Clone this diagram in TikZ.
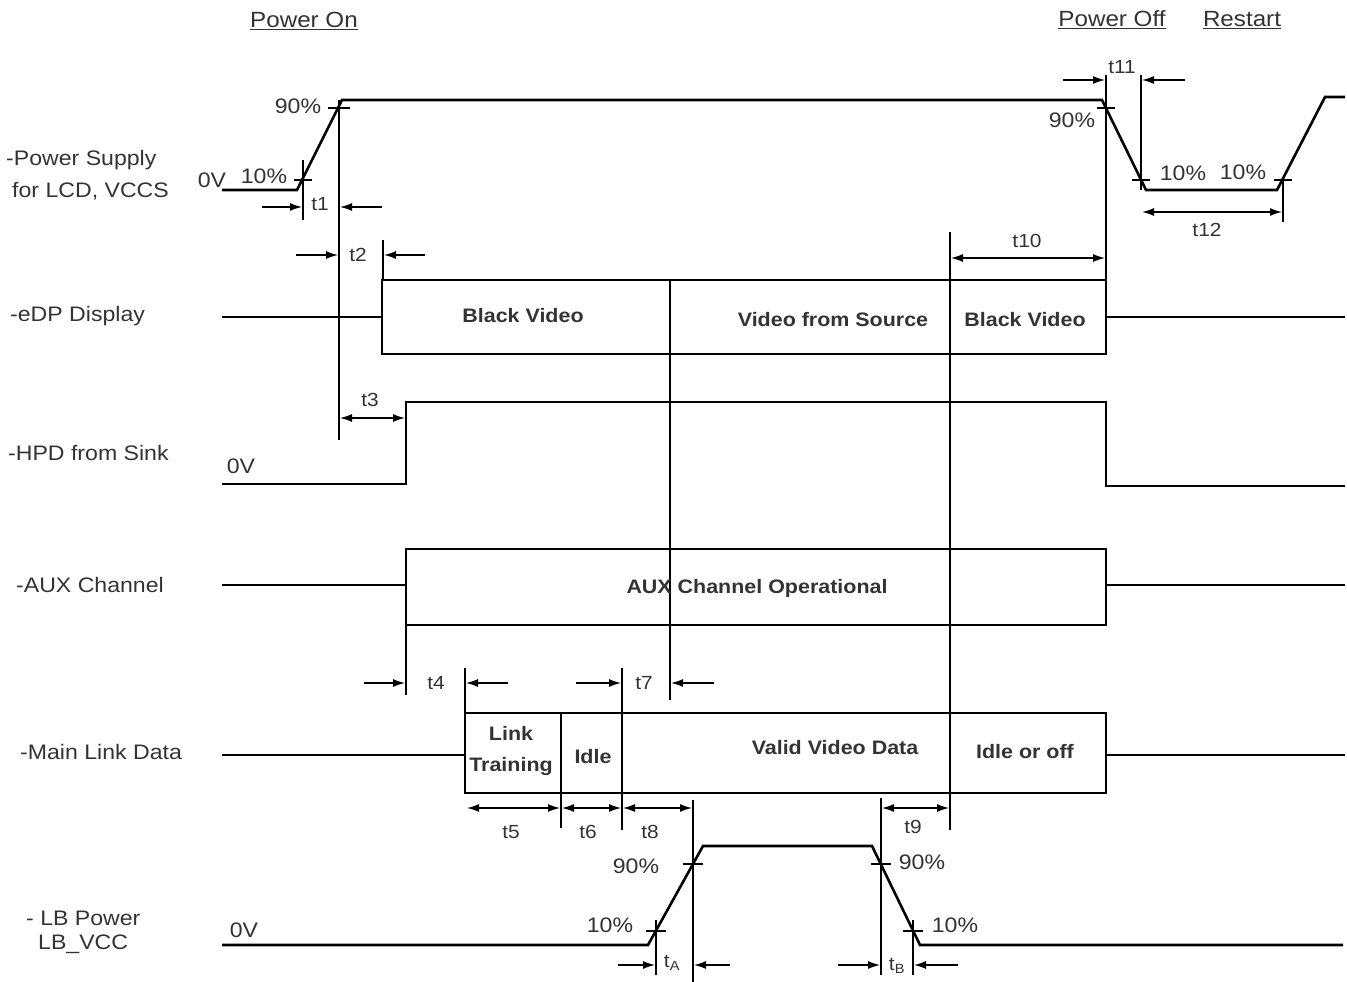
\documentclass[tikz,border=0pt]{standalone}
\usepackage{fontspec}
\setmainfont[FakeStretch=1.1]{Liberation Sans}
\usetikzlibrary{arrows.meta}
\definecolor{labelgrey}{gray}{0.2}
\tikzset{
  sig/.style={line width=2.6pt, line join=miter},
  guide/.style={line width=1.3pt},
  tick/.style={line width=1.1pt},
  dimr/.style={line width=1.3pt,-{Latex[length=12pt,width=8pt]}},
  dimb/.style={line width=1.3pt,{Latex[length=12pt,width=8pt]}-{Latex[length=12pt,width=8pt]}},
  lbl/.style={font=\fontsize{21}{24}\selectfont, inner sep=0pt, text=labelgrey},
  hlbl/.style={font=\fontsize{22}{24}\selectfont, inner sep=0pt, text=labelgrey},
  blbl/.style={font=\fontsize{19.5}{31}\selectfont\bfseries, inner sep=0pt, align=center, text=labelgrey},
  tlbl/.style={font=\fontsize{19}{22}\selectfont, inner sep=0pt, text=labelgrey},
}

\begin{document}
\begin{tikzpicture}[x=1pt,y=-1pt,>=Latex]
\useasboundingbox (0,0) rectangle (1347,982);
% headings
\node[hlbl] (pon) at (304,21) {\underline{Power On}};
\node[hlbl] (poff) at (1112,20) {\underline{Power Off}};
\node[hlbl] (rst) at (1242,20) {\underline{Restart}};
% signal names
\node[lbl,anchor=west] (nps) at (6,160) {-Power Supply};
\node[lbl,anchor=west] (nps2) at (12,191) {for LCD, VCCS};
\node[lbl,anchor=west] (nedp) at (10,316) {-eDP Display};
\node[lbl,anchor=west] (nhpd) at (8,453) {-HPD from Sink};
\node[lbl,anchor=west] (naux) at (16,585) {-AUX Channel};
\node[lbl,anchor=west] (nml) at (20,752) {-Main Link Data};
\node[lbl,anchor=west] (nlb) at (26,918) {- LB Power};
\node[lbl,anchor=west] (nlb2) at (38,944) {LB\_VCC};

% vertical guide lines
\draw[guide] (303,160) -- (303,220);
\draw[guide] (339,100) -- (339,440);
\draw[guide] (383,240) -- (383,280);
\draw[guide] (1106,75) -- (1106,280);
\draw[guide] (1141,75) -- (1141,190);
\draw[guide] (1283,178) -- (1283,222);
\draw[guide] (950,232) -- (950,830);
\draw[guide] (670,354) -- (670,700);
\draw[guide] (406,625) -- (406,695);
\draw[guide] (465,668) -- (465,713);
\draw[guide] (622,668) -- (622,830);
\draw[guide] (561,793) -- (561,828);
\draw[guide] (693,800) -- (693,982);
\draw[guide] (881,798) -- (881,975);
\draw[guide] (656,920) -- (656,975);
\draw[guide] (913,920) -- (913,975);

% power supply
\draw[sig] (222,190) -- (297,190) -- (342,100) -- (1102,100) -- (1146,190)
  -- (1277,190) -- (1325,97) -- (1345,97);
\draw[tick] (294,180) -- (312,180); \draw[tick] (328,108) -- (350,108);
\draw[tick] (1097,108) -- (1115,108); \draw[tick] (1132,180) -- (1150,180);
\draw[tick] (1274,180) -- (1292,180);
\node[lbl] (p90a) at (298,106) {90\%};
\node[lbl] (p10a) at (264,176) {10\%};
\node[lbl] (p0v) at (212,180) {0V};
\node[lbl] (p90b) at (1072,120) {90\%};
\node[lbl] (p10b) at (1183,173) {10\%};
\node[lbl] (p10c) at (1243,172) {10\%};
% t1, t2, t11, t12, t10
\draw[dimr] (262,207) -- (302,207); \draw[dimr] (382,207) -- (340,207);
\node[tlbl] (t1) at (320,204) {t1};
\draw[dimr] (296,255) -- (338,255); \draw[dimr] (425,255) -- (384,255);
\node[tlbl] (t2) at (358,255) {t2};
\draw[dimr] (1063,80) -- (1105,80); \draw[dimr] (1185,80) -- (1142,80);
\node[tlbl] (t11) at (1122,67) {t11};
\draw[dimb] (1142,212) -- (1282,212);
\node[tlbl] (t12) at (1207,230) {t12};
\draw[dimb] (951,258) -- (1105,258);
\node[tlbl] (t10) at (1027,241) {t10};

% eDP display
\draw[sig] (222,317) -- (382,317);
\draw[sig] (382,280) rectangle (1106,354);
\draw[sig] (670,280) -- (670,354); \draw[sig] (950,280) -- (950,354);
\draw[sig] (1106,317) -- (1345,317);
\node[blbl] (bv1) at (523,316) {Black Video};
\node[blbl] (vfs) at (833,320) {Video from Source};
\node[blbl] (bv2) at (1025,320) {Black Video};

% HPD from sink
\draw[sig] (222,484) -- (406,484) -- (406,402) -- (1106,402) -- (1106,486) -- (1345,486);
\node[lbl] (h0v) at (241,466) {0V};
\draw[dimb] (340,418) -- (405,418);
\node[tlbl] (t3) at (370,400) {t3};

% AUX channel
\draw[sig] (222,585) -- (406,585);
\draw[sig] (406,549) rectangle (1106,625);
\draw[sig] (1106,585) -- (1345,585);
\node[blbl] (auxop) at (757,588) {AUX Channel Operational};

% t4, t7
\draw[dimr] (364,683) -- (405,683); \draw[dimr] (508,683) -- (466,683);
\node[tlbl] (t4) at (436,683) {t4};
\draw[dimr] (576,683) -- (621,683); \draw[dimr] (714,683) -- (671,683);
\node[tlbl] (t7) at (644,683) {t7};

% main link data
\draw[sig] (222,755) -- (465,755);
\draw[sig] (465,713) rectangle (1106,793);
\draw[sig] (561,713) -- (561,793); \draw[sig] (622,713) -- (622,793);
\draw[sig] (950,713) -- (950,793);
\draw[sig] (1106,755) -- (1345,755);
\node[blbl] (lt) at (511,751) {Link\\Training};
\node[blbl] (idle) at (593,757) {Idle};
\node[blbl] (vvd) at (835,748) {Valid Video Data};
\node[blbl] (ioo) at (1025,752) {Idle or off};
% t5, t6, t8, t9
\draw[dimb] (467,808) -- (560,808);
\node[tlbl] (t5) at (511,832) {t5};
\draw[dimb] (562,808) -- (621,808);
\node[tlbl] (t6) at (588,832) {t6};
\draw[dimb] (623,808) -- (692,808);
\node[tlbl] (t8) at (650,832) {t8};
\draw[dimb] (882,808) -- (949,808);
\node[tlbl] (t9) at (913,827) {t9};

% LB power
\draw[sig] (222,945) -- (648,945) -- (703,846) -- (872,846) -- (920,945) -- (1343,945);
\draw[tick] (646,931) -- (666,931); \draw[tick] (683,864) -- (703,864);
\draw[tick] (871,864) -- (891,864); \draw[tick] (903,931) -- (923,931);
\node[lbl] (l90a) at (636,866) {90\%};
\node[lbl] (l10a) at (610,925) {10\%};
\node[lbl] (l90b) at (922,862) {90\%};
\node[lbl] (l10b) at (955,925) {10\%};
\node[lbl] (l0v) at (244,930) {0V};
% tA, tB
\draw[dimr] (618,965) -- (655,965); \draw[dimr] (730,965) -- (694,965);
\node[tlbl] (ta) at (672,963) {t\textsubscript{A}};
\draw[dimr] (838,965) -- (880,965); \draw[dimr] (958,965) -- (914,965);
\node[tlbl] (tb) at (897,966) {t\textsubscript{B}};
\end{tikzpicture}
\end{document}
